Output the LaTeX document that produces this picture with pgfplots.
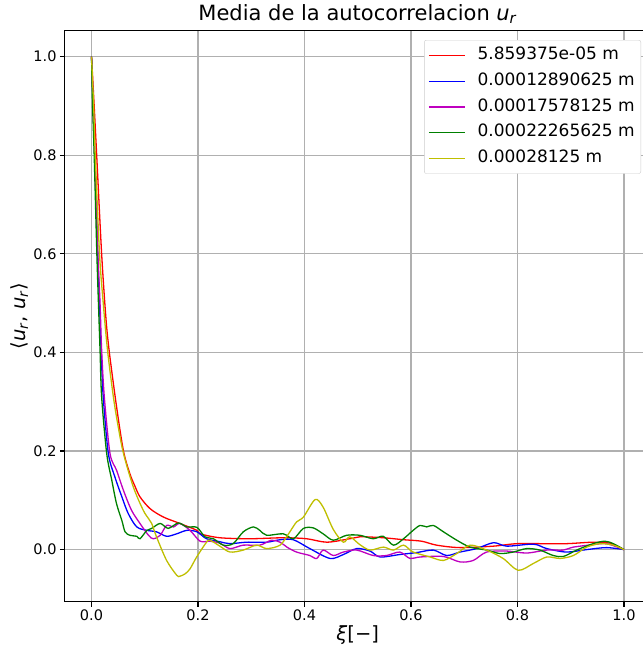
\documentclass[border=0pt]{standalone}
\usepackage{fontspec}
\setmainfont{DejaVu Sans}
\usepackage{pgfplots}
\pgfplotsset{compat=1.18}
\newcommand{\ur}{\textit{u}\textsubscript{\textit{r}}}
\definecolor{mplred}{HTML}{FF0000}
\definecolor{mplblue}{HTML}{0000FF}
\definecolor{mplmag}{HTML}{BF00BF}
\definecolor{mplgreen}{HTML}{008000}
\definecolor{mplyel}{HTML}{BFBF00}
\definecolor{gridc}{HTML}{B0B0B0}
\definecolor{legc}{HTML}{CCCCCC}
\begin{document}
\begin{tikzpicture}
\begin{axis}[
  at={(0,0)}, anchor=south west,
  scale only axis, width=585.7bp, height=571.1bp,
  xmin=-0.05, xmax=1.05, ymin=-0.1057, ymax=1.0527,
  xtick={0,0.2,0.4,0.6,0.8,1.0}, xticklabels={0.0,0.2,0.4,0.6,0.8,1.0},
  ytick={0,0.2,0.4,0.6,0.8,1.0}, yticklabels={0.0,0.2,0.4,0.6,0.8,1.0},
  tick pos=left, tick align=outside, major tick length=4.9bp,
  tick style={black, line width=1.1bp},
  grid=major, major grid style={color=gridc, line width=1.1bp},
  axis line style={black, line width=1.1bp},
  ticklabel style={font=\fontsize{14.5bp}{17bp}\selectfont},
  title={Media de la autocorrelacion \ur},
  title style={at={(axis description cs:0.5,1.008)}, anchor=base, font=\fontsize{21bp}{25bp}\selectfont, inner sep=0pt},
  xlabel={\textit{ξ}[−]},
  xlabel style={at={(axis description cs:0.5,-0.0671)}, anchor=base, font=\fontsize{19.5bp}{23bp}\selectfont, inner sep=0pt},
  ylabel={⟨\ur, \ur⟩},
  ylabel style={at={(axis description cs:-0.0681,0.5)}, anchor=base, rotate=0, font=\fontsize{19.5bp}{23bp}\selectfont, inner sep=0pt},
  legend cell align=left,
  legend image code/.code={\draw[#1, line width=1.3bp, sharp plot] plot coordinates {(0bp,0bp) (18bp,0bp) (36bp,0bp)};},
  legend style={at={(axis description cs:0.9836,0.9835)}, anchor=north east,
    draw=legc, rounded corners=2bp, fill=white,
    inner xsep=4bp, inner ysep=5.5bp, row sep=6.2bp, column sep=10bp,
    font=\fontsize{17bp}{20bp}\selectfont,
    nodes={inner sep=2bp, text height=12bp, text depth=3.5bp}},
  every axis plot/.append style={line width=1.3bp, smooth, tension=0.5},
]
\addplot[draw=mplred] coordinates {(0,1.0)(0.005,0.9)(0.0097,0.8)(0.019,0.6)(0.027,0.47)(0.0335,0.40)(0.047,0.29)(0.060,0.20)(0.072,0.154)(0.081,0.13)(0.091,0.107)(0.110,0.083)(0.135,0.066)(0.166,0.053)(0.198,0.039)(0.204,0.032)(0.241,0.024)(0.298,0.022)(0.36,0.024)(0.404,0.022)(0.442,0.015)(0.485,0.022)(0.504,0.026)(0.548,0.024)(0.586,0.020)(0.62,0.017)(0.648,0.009)(0.692,0.004)(0.755,0.007)(0.798,0.012)(0.848,0.012)(0.892,0.012)(0.942,0.015)(0.974,0.013)(1.0,0.0)};
\addlegendentry{5.859375e-05 m}
\addplot[draw=mplblue] coordinates {(0,1.0)(0.003,0.9)(0.006,0.8)(0.0116,0.6)(0.015,0.5)(0.018,0.405)(0.022,0.31)(0.0316,0.195)(0.044,0.147)(0.057,0.107)(0.069,0.073)(0.085,0.046)(0.104,0.039)(0.122,0.036)(0.141,0.027)(0.160,0.032)(0.179,0.039)(0.198,0.036)(0.216,0.022)(0.241,0.016)(0.26,0.012)(0.291,0.015)(0.329,0.015)(0.354,0.020)(0.379,0.020)(0.41,0.002)(0.448,-0.018)(0.473,-0.010)(0.498,0.002)(0.523,-0.003)(0.542,-0.015)(0.579,-0.010)(0.611,-0.006)(0.642,-0.001)(0.667,-0.012)(0.692,-0.005)(0.723,0.002)(0.755,0.014)(0.780,0.007)(0.83,0.011)(0.855,0.002)(0.892,-0.005)(0.93,0.0)(0.967,0.004)(1.0,0.0)};
\addlegendentry{0.00012890625 m}
\addplot[draw=mplmag] coordinates {(0,1.0)(0.003,0.9)(0.006,0.8)(0.012,0.6)(0.016,0.5)(0.019,0.405)(0.024,0.31)(0.0347,0.195)(0.047,0.161)(0.060,0.12)(0.075,0.08)(0.091,0.053)(0.107,0.029)(0.116,0.022)(0.129,0.029)(0.141,0.049)(0.154,0.046)(0.166,0.053)(0.185,0.039)(0.204,0.017)(0.2225,0.017)(0.241,0.013)(0.26,0.002)(0.285,0.009)(0.316,0.009)(0.338,0.019)(0.354,0.015)(0.367,0.005)(0.385,-0.005)(0.41,-0.012)(0.423,-0.018)(0.435,-0.001)(0.454,-0.012)(0.473,-0.005)(0.498,-0.001)(0.529,-0.012)(0.554,-0.012)(0.579,-0.005)(0.598,-0.018)(0.617,-0.015)(0.661,-0.014)(0.692,-0.025)(0.717,-0.022)(0.742,-0.005)(0.78,-0.003)(0.817,-0.007)(0.855,-0.001)(0.886,-0.001)(0.905,0.005)(0.942,0.010)(0.967,0.012)(1.0,0.0)};
\addlegendentry{0.00017578125 m}
\addplot[draw=mplgreen] coordinates {(0,1.0)(0.002,0.9)(0.005,0.8)(0.010,0.6)(0.013,0.5)(0.016,0.405)(0.019,0.31)(0.0285,0.195)(0.038,0.141)(0.047,0.093)(0.057,0.059)(0.063,0.036)(0.072,0.029)(0.085,0.027)(0.091,0.022)(0.104,0.039)(0.113,0.043)(0.129,0.053)(0.144,0.043)(0.163,0.054)(0.179,0.046)(0.198,0.045)(0.213,0.026)(0.229,0.022)(0.2475,0.009)(0.266,0.012)(0.285,0.036)(0.304,0.046)(0.316,0.039)(0.329,0.029)(0.36,0.032)(0.379,0.022)(0.398,0.043)(0.4165,0.044)(0.435,0.032)(0.454,0.019)(0.479,0.029)(0.504,0.029)(0.529,0.022)(0.548,0.027)(0.567,0.009)(0.586,0.022)(0.604,0.039)(0.617,0.049)(0.6295,0.046)(0.642,0.049)(0.661,0.036)(0.686,0.019)(0.711,0.005)(0.742,-0.001)(0.767,-0.008)(0.792,-0.005)(0.817,0.002)(0.842,-0.001)(0.867,-0.012)(0.886,-0.014)(0.911,-0.001)(0.942,0.012)(0.964,0.017)(0.98,0.012)(1.0,0.0)};
\addlegendentry{0.00022265625 m}
\addplot[draw=mplyel] coordinates {(0,1.0)(0.004,0.9)(0.007,0.8)(0.015,0.6)(0.022,0.5)(0.030,0.405)(0.041,0.31)(0.050,0.25)(0.060,0.195)(0.0785,0.127)(0.097,0.08)(0.107,0.063)(0.113,0.053)(0.122,0.026)(0.141,-0.022)(0.160,-0.052)(0.166,-0.054)(0.176,-0.049)(0.185,-0.039)(0.1975,-0.015)(0.216,0.015)(0.2225,0.019)(0.241,0.007)(0.26,-0.005)(0.285,-0.001)(0.310,0.009)(0.329,0.002)(0.354,0.009)(0.370,0.032)(0.385,0.056)(0.398,0.066)(0.420,0.1015)(0.435,0.086)(0.454,0.041)(0.473,0.015)(0.485,0.026)(0.504,0.010)(0.523,-0.001)(0.548,0.005)(0.567,-0.001)(0.586,0.009)(0.604,-0.005)(0.636,-0.015)(0.661,-0.022)(0.686,-0.008)(0.711,0.009)(0.742,-0.001)(0.773,-0.018)(0.8015,-0.042)(0.830,-0.028)(0.855,-0.015)(0.880,-0.018)(0.905,-0.012)(0.930,0.005)(0.955,0.012)(0.98,0.009)(1.0,0.0)};
\addlegendentry{0.00028125 m}
\end{axis}
\pgfresetboundingbox
\path[use as bounding box] (-64.9bp,-46.3bp) rectangle (578.1bp,601.7bp);
\end{tikzpicture}
\end{document}
